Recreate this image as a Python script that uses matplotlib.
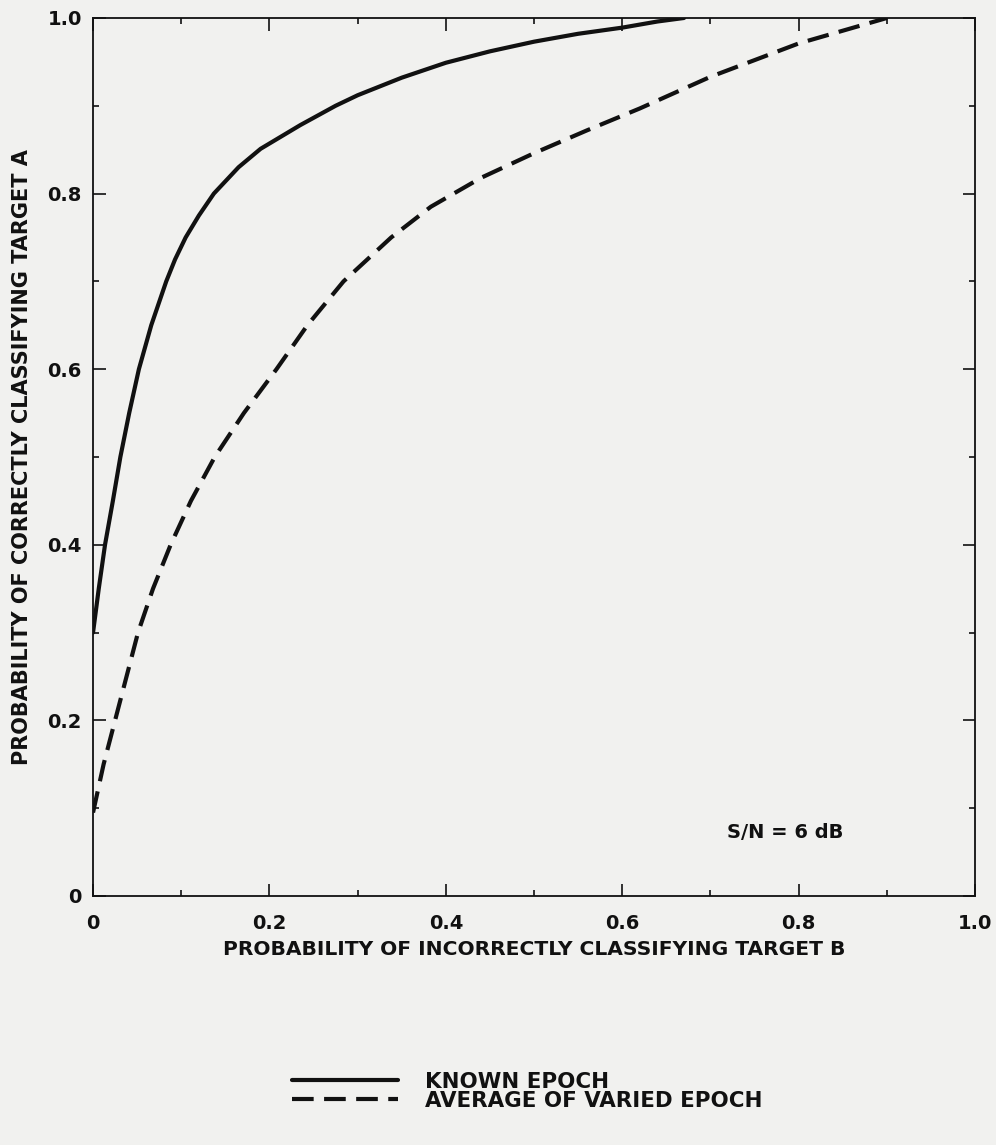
import matplotlib
matplotlib.use("Agg")
import matplotlib.pyplot as plt
from matplotlib.ticker import MultipleLocator, FixedFormatter, FixedLocator

# ROC curves, S/N = 6 dB
known_x = [0.0, 0.0065, 0.0136, 0.0225, 0.031, 0.041, 0.052, 0.066, 0.083, 0.093,
           0.105, 0.12, 0.137, 0.165, 0.19, 0.235, 0.275, 0.30, 0.35, 0.40,
           0.45, 0.50, 0.55, 0.60, 0.64, 0.67]
known_y = [0.30, 0.35, 0.40, 0.45, 0.50, 0.55, 0.60, 0.65, 0.70, 0.725,
           0.75, 0.775, 0.80, 0.83, 0.851, 0.878, 0.90, 0.912, 0.932, 0.949,
           0.962, 0.973, 0.982, 0.989, 0.996, 1.0]

varied_x = [0.0, 0.012, 0.025, 0.038, 0.051, 0.068, 0.088, 0.111, 0.138, 0.171,
            0.208, 0.243, 0.284, 0.338, 0.383, 0.44, 0.50, 0.56, 0.62, 0.70,
            0.80, 0.90]
varied_y = [0.095, 0.15, 0.20, 0.25, 0.30, 0.35, 0.40, 0.45, 0.50, 0.55,
            0.60, 0.65, 0.70, 0.75, 0.785, 0.818, 0.846, 0.872, 0.897, 0.933,
            0.971, 1.0]

tick_values = [0, 0.2, 0.4, 0.6, 0.8, 1.0]
tick_labels = ["0", "0.2", "0.4", "0.6", "0.8", "1.0"]

FONT = ["DejaVu Sans"]
BG = "#f1f1ef"
INK = "#111111"

fig = plt.figure(figsize=(9.96, 11.45), dpi=100, facecolor=BG)
ax = fig.add_axes([0.0934, 0.2175, 0.8856, 0.7668], facecolor=BG)

solid, = ax.plot(known_x, known_y, color=INK, lw=3.0, solid_capstyle="round",
                 solid_joinstyle="round", label="KNOWN EPOCH")
dashed, = ax.plot(varied_x, varied_y, color=INK, lw=3.0, linestyle=(0, (5.2, 2.5)),
                  dash_joinstyle="round", label="AVERAGE OF VARIED EPOCH")

ax.set_xlim(0, 1.0)
ax.set_ylim(0, 1.0)
ax.xaxis.set_major_locator(FixedLocator(tick_values))
ax.xaxis.set_major_formatter(FixedFormatter(tick_labels))
ax.yaxis.set_major_locator(FixedLocator(tick_values))
ax.yaxis.set_major_formatter(FixedFormatter(tick_labels))
ax.xaxis.set_minor_locator(MultipleLocator(0.1))
ax.yaxis.set_minor_locator(MultipleLocator(0.1))
ax.tick_params(which="both", direction="in", top=True, right=True,
               color=INK, width=1.2)
ax.tick_params(which="major", length=9, labelsize=14, labelcolor=INK)
ax.tick_params(axis="x", which="major", pad=13)
ax.tick_params(axis="y", which="major", pad=8)
ax.tick_params(which="minor", length=4)
for lab in ax.get_xticklabels() + ax.get_yticklabels():
    lab.set_family(FONT)
    lab.set_fontweight("bold")
for sp in ax.spines.values():
    sp.set_linewidth(1.3)
    sp.set_color(INK)

ax.set_xlabel("PROBABILITY OF INCORRECTLY CLASSIFYING TARGET B",
              fontsize=14.6, fontweight="bold", family=FONT, color=INK, labelpad=5)
ax.set_ylabel("PROBABILITY OF CORRECTLY CLASSIFYING TARGET A",
              fontsize=15, fontweight="bold", family=FONT, color=INK, labelpad=11)

ax.text(0.785, 0.072, "S/N = 6 dB", fontsize=14, fontweight="bold",
        family=FONT, color=INK, ha="center", va="center")

fig.legend(handles=[solid, dashed], loc="upper left",
           bbox_to_anchor=(0.293, 0.064), frameon=False,
           borderpad=0, borderaxespad=0,
           handlelength=4.95, handletextpad=1.26, labelspacing=-0.05,
           prop={"family": FONT, "weight": "bold", "size": 15.4}, labelcolor=INK)

fig.savefig("out.png", dpi=100, facecolor=BG)
